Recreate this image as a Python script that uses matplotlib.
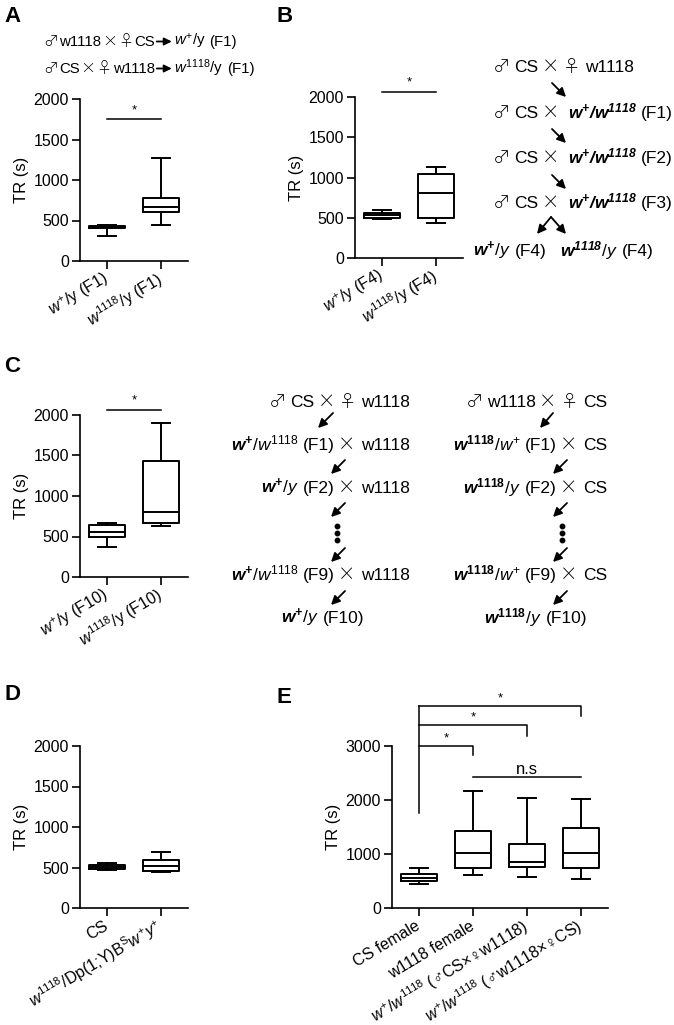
import numpy as np
import matplotlib
matplotlib.use('Agg')
import matplotlib.pyplot as plt
from matplotlib.lines import Line2D
from matplotlib.patches import FancyArrowPatch

LAT = ['Liberation Sans', 'DejaVu Sans']
SYM = ['Noto Sans CJK JP', 'DejaVu Sans']
plt.rcParams['font.family'] = LAT
plt.rcParams['mathtext.fontset'] = 'custom'
plt.rcParams['mathtext.rm'] = 'Liberation Sans'
plt.rcParams['mathtext.it'] = 'Liberation Sans:italic'
plt.rcParams['mathtext.bf'] = 'Liberation Sans:bold'
plt.rcParams['mathtext.bfit'] = 'Liberation Sans:italic:bold'

# box stats per panel: whisker low, q1, median, q3, whisker high
a_labels = [r'$w^{+}$/y (F1)', r'$w^{\mathit{1118}}$/y (F1)']
a_lo = [310, 445]
a_q1 = [405, 610]
a_med = [420, 662]
a_q3 = [432, 782]
a_hi = [440, 1268]

b_labels = [r'$w^{+}$/y (F4)', r'$w^{\mathit{1118}}$/y (F4)']
b_lo = [484, 440]
b_q1 = [500, 501]
b_med = [530, 804]
b_q3 = [553, 1039]
b_hi = [596, 1134]

c_labels = [r'$w^{+}$/y (F10)', r'$w^{\mathit{1118}}$/y (F10)']
c_lo = [374, 630]
c_q1 = [497, 670]
c_med = [559, 799]
c_q3 = [642, 1436]
c_hi = [670, 1897]

d_labels = ['CS', r'$w^{\mathit{1118}}$/Dp(1;Y)B$^{\mathrm{S}}$$w^{+}y^{+}$']
d_lo = [470, 448]
d_q1 = [480, 462]
d_med = [505, 520]
d_q3 = [530, 595]
d_hi = [550, 695]

e_labels = ['CS female', 'w1118 female',
            r'$w^{+}$/$w^{\mathit{1118}}$ (♂CS×♀w1118)',
            r'$w^{+}$/$w^{\mathit{1118}}$ (♂w1118×♀CS)']
e_lo = [444, 611, 568, 537]
e_q1 = [506, 735, 765, 740]
e_med = [548, 1025, 852, 1020]
e_q3 = [622, 1426, 1185, 1487]
e_hi = [735, 2173, 2031, 2015]

W, H = 674, 1025
fig = plt.figure(figsize=(W / 100, H / 100), dpi=100)
rend = fig.canvas.get_renderer()


def px_axes(x0, y0, x1, y1):
    return fig.add_axes([x0 / W, 1 - y1 / H, (x1 - x0) / W, (y1 - y0) / H])


def fxy(x, y):
    return (x / W, 1 - y / H)


def boxes(ax, lo, q1, med, q3, hi):
    stats = [dict(whislo=a, q1=b, med=c, q3=d, whishi=e)
             for a, b, c, d, e in zip(lo, q1, med, q3, hi)]
    lp = dict(lw=1.4, color='k')
    ax.bxp(stats, positions=range(1, len(stats) + 1), widths=0.66, capwidths=0.33,
           showfliers=False, boxprops=lp, medianprops=lp, whiskerprops=lp, capprops=lp)


def style(ax, labels, ymax, step):
    ax.set_xlim(0.5, len(labels) + 0.5)
    ax.set_ylim(0, ymax)
    ax.set_yticks(np.arange(0, ymax + 1, step))
    ax.set_xticks(range(1, len(labels) + 1))
    ax.set_xticklabels(labels, rotation=31, ha='right', va='center', rotation_mode='anchor')
    ax.spines[['top', 'right']].set_visible(False)
    ax.spines[['left', 'bottom']].set_linewidth(1.2)
    ax.tick_params(width=1.2, length=6, labelsize=11.5, pad=2)
    ax.tick_params(axis='x', pad=6)
    ax.set_ylabel('TR (s)', fontsize=12, labelpad=3)


def sig(ax, x0, x1, y, star_y, txt='*', fs=9.5):
    ax.plot([x0, x1], [y, y], color='k', lw=1.1, clip_on=False)
    ax.text((x0 + x1) / 2, star_y, txt, ha='center', va='baseline', fontsize=fs, clip_on=False)


def arrow(p0, p1, ms=13):
    a = FancyArrowPatch(fxy(*p0), fxy(*p1), transform=fig.transFigure,
                        arrowstyle='-|>', mutation_scale=ms, lw=1.3, color='k',
                        shrinkA=0, shrinkB=0)
    fig.add_artist(a)


def rich(x, y, pieces, ha='left', fs=12.5):
    # pieces: str (latin), (str, family), number = gap in px, 'ARROW' = drawn arrow
    items = []
    for p in pieces:
        if isinstance(p, (int, float)):
            items.append((None, p))
        elif p == 'ARROW':
            items.append(('arrow', 19))
        else:
            s, fam = (p, LAT) if isinstance(p, str) else p
            kw = {'fontweight': 'light'} if fam is SYM else {}
            t = fig.text(0, 0, s, fontsize=fs, va='baseline', ha='left', family=fam, **kw)
            items.append((t, t.get_window_extent(rend).width))
    total = sum(w for _, w in items)
    x0 = {'left': x, 'right': x - total, 'center': x - total / 2}[ha]
    for a, w in items:
        if a == 'arrow':
            arrow((x0 + 2, y - 4.5), (x0 + w - 2, y - 4.5), ms=11)
        elif a is not None:
            a.set_position(fxy(x0, y))
        x0 += w


M = ('♂', SYM)
F = ('♀', SYM)
X = ('×', SYM)

# panel letters
for lab, x, y in [('A', 4, 6), ('B', 277, 6), ('C', 4, 356), ('D', 4, 684), ('E', 277, 687)]:
    fig.text(*fxy(x, y), lab, fontsize=16, fontweight='bold', ha='left', va='top')

# ---- A
axA = px_axes(80, 99, 188, 261)
boxes(axA, a_lo, a_q1, a_med, a_q3, a_hi)
style(axA, a_labels, 2000, 500)
sig(axA, 1, 2, 1753, 1820)
rich(43, 46, [M, 1, 'w1118', 1, X, 1, F, 1, 'CS', 'ARROW', r'$w^{+}$/y', 4, '(F1)'], fs=10.8)
rich(43, 73, [M, 1, 'CS', 1, X, 1, F, 1, 'w1118', 'ARROW', r'$w^{1118}$/y', 4, '(F1)'], fs=10.8)

# ---- B
axB = px_axes(355, 97, 463, 258)
boxes(axB, b_lo, b_q1, b_med, b_q3, b_hi)
style(axB, b_labels, 2000, 500)
sig(axB, 1, 2, 2062, 2140)

rich(493, 72, [M, 4, 'CS', 3, X, 4, F, 5, 'w1118'])
for i, g in enumerate(['F1', 'F2', 'F3']):
    rich(493, 118 + 45 * i, [M, 4, 'CS', 3, X, 9, r'$\mathbfit{w^{+}/w^{1118}}$', 4, '(' + g + ')'])
    arrow((552, 83 + 46 * i), (566, 97 + 46 * i))
arrow((551, 217), (537, 234))
arrow((551, 217), (566, 234))
rich(473, 256, [r'$\mathbfit{w^{+}}/y$', 4, '(F4)'])
rich(560, 256, [r'$\mathbfit{w^{1118}}/y$', 4, '(F4)'])

# ---- C
axC = px_axes(80, 415, 188, 577)
boxes(axC, c_lo, c_q1, c_med, c_q3, c_hi)
style(axC, c_labels, 2000, 500)
sig(axC, 1, 2, 2062, 2140)

rich(410, 407, [M, 4, 'CS', 3, X, 4, F, 5, 'w1118'], ha='right')
for y, g, tail in [(450, 'F1', r'$\mathbfit{w^{+}}/w^{1118}$'), (493, 'F2', r'$\mathbfit{w^{+}}/y$'),
                   (580, 'F9', r'$\mathbfit{w^{+}}/w^{1118}$')]:
    rich(410, y, [tail, 4, '(' + g + ')', 3, X, 6, 'w1118'], ha='right')
rich(323, 623, [r'$\mathbfit{w^{+}}/y$', 4, '(F10)'], ha='center')

rich(607, 407, [M, 4, 'w1118', 3, X, 4, F, 5, 'CS'], ha='right')
for y, g, tail in [(450, 'F1', r'$\mathbfit{w}^{\mathbf{1118}}/w^{+}$'),
                   (493, 'F2', r'$\mathbfit{w}^{\mathbf{1118}}/y$'),
                   (580, 'F9', r'$\mathbfit{w}^{\mathbf{1118}}/w^{+}$')]:
    rich(607, y, [tail, 4, '(' + g + ')', 3, X, 6, 'CS'], ha='right')
rich(536, 623, [r'$\mathbfit{w}^{\mathbf{1118}}/y$', 4, '(F10)'], ha='center')

arrow((333, 413), (318, 428))
arrow((553, 413), (540, 428))
for y0 in [460, 503, 548, 591]:
    arrow((345, y0), (331, y0 + 14))
    arrow((567, y0), (553, y0 + 14))
for xd in [337, 562]:
    fig.add_artist(Line2D([xd / W] * 3, [1 - v / H for v in (526, 533, 540)],
                          transform=fig.transFigure, ls='none', marker='o',
                          ms=3.2, color='k'))

# ---- D
axD = px_axes(80, 746, 188, 908)
boxes(axD, d_lo, d_q1, d_med, d_q3, d_hi)
style(axD, d_labels, 2000, 500)

# ---- E
axE = px_axes(392, 746, 608, 908)
boxes(axE, e_lo, e_q1, e_med, e_q3, e_hi)
style(axE, e_labels, 3000, 1000)
for xr, yh, yd, ys in [(2, 3000, 2833, 3080), (3, 3389, 3191, 3465), (4, 3747, 3556, 3825)]:
    axE.plot([1, xr, xr], [yh, yh, yd], color='k', lw=1.1, clip_on=False)
    axE.text((1 + xr) / 2, ys, '*', ha='center', va='baseline', fontsize=9.5, clip_on=False)
axE.plot([1, 1], [1753, 3747], color='k', lw=1.1, clip_on=False)
sig(axE, 2, 4, 2420, 2490, txt='n.s', fs=12)

fig.savefig('out.png', dpi=100)
